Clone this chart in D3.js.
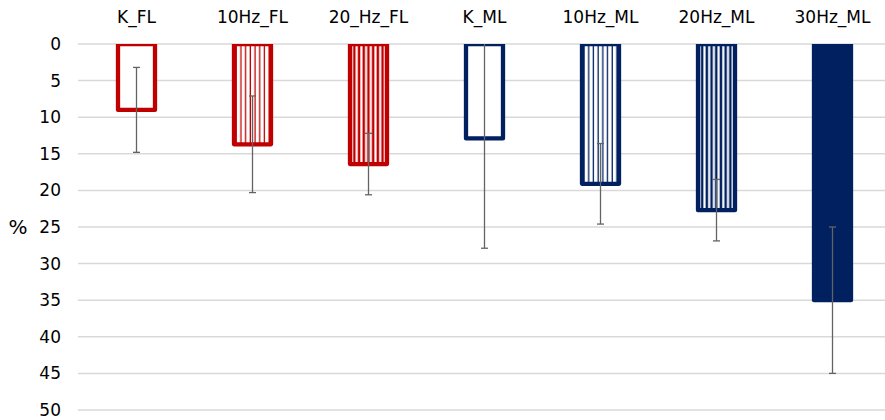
<!DOCTYPE html>
<html>
<head>
<meta charset="utf-8">
<script src="https://cdn.jsdelivr.net/npm/d3@7"></script>
<style>
  html, body { margin: 0; padding: 0; background: #fff; }
  svg { display: block; font-family: "DejaVu Sans", Verdana, sans-serif; }
</style>
</head>
<body>
<svg id="chart" width="885" height="420"></svg>
<script>
// Groups, mean values (%) and error half-widths
const categories = ["K_FL", "10Hz_FL", "20_Hz_FL", "K_ML", "10Hz_ML", "20Hz_ML", "30Hz_ML"];
const values = [9.0, 13.7, 16.4, 12.9, 19.1, 22.7, 35.0];
const errors = [5.8, 6.6, 4.2, 15.0, 5.5, 4.2, 10.0];
// fill style per bar: hollow, light stripes, dense stripes, solid
const fills = ["hollow", "light", "dense", "hollow", "light", "dense", "solid"];
const colors = ["#C00000", "#C00000", "#C00000", "#002060", "#002060", "#002060", "#002060"];
const yTicks = [0, 5, 10, 15, 20, 25, 30, 35, 40, 45, 50];

const svg = d3.select("#chart");
const W = 885, H = 420;

const y = d3.scaleLinear().domain([0, 50]).range([44, 410]);
const x = d3.scaleBand().domain(categories).range([78.5, 890.5]).paddingInner(0).paddingOuter(0);
const barW = 41;

const defs = svg.append("defs");
// vertical stripe patterns
function stripe(id, color, lineW) {
  const p = defs.append("pattern").attr("id", id)
    .attr("patternUnits", "userSpaceOnUse").attr("width", 4.7).attr("height", 10);
  p.append("rect").attr("width", 4.7).attr("height", 10).attr("fill", "#fff");
  p.append("rect").attr("x", 0.6).attr("width", lineW).attr("height", 10).attr("fill", color);
}
stripe("light-C00000", "#C00000", 1.3);
stripe("dense-C00000", "#C00000", 2.5);
stripe("light-002060", "#002060", 1.3);
stripe("dense-002060", "#002060", 2.5);

defs.append("clipPath").attr("id", "plotClip")
  .append("rect").attr("x", 0).attr("y", y(0)).attr("width", W).attr("height", H - y(0));

// grid lines
svg.append("g").selectAll("line").data(yTicks).join("line")
  .attr("x1", 78).attr("x2", W)
  .attr("y1", d => y(d)).attr("y2", d => y(d))
  .attr("stroke", "#d9d9d9").attr("stroke-width", 1.5);

// y axis labels
const yAxis = d3.axisLeft(y).tickValues(yTicks).tickSize(0).tickPadding(0);
const gy = svg.append("g").attr("transform", "translate(61,0)").call(yAxis);
gy.select(".domain").remove();
gy.selectAll("text").attr("font-size", 17).attr("fill", "#000")
  .attr("font-family", "DejaVu Sans, Verdana, sans-serif");

svg.append("text").attr("x", 18).attr("y", y(25)).attr("dy", "0.35em")
  .attr("text-anchor", "middle").attr("font-size", 20).attr("fill", "#000").text("%");

// category labels along the top
const xAxis = d3.axisTop(x).tickSize(0).tickPadding(0);
const gx = svg.append("g").attr("transform", "translate(0,23)").call(xAxis);
gx.select(".domain").remove();
gx.selectAll("text").attr("font-size", 17).attr("fill", "#000")
  .attr("font-family", "DejaVu Sans, Verdana, sans-serif").attr("dy", 0);

// bars hanging down from 0
const data = categories.map((c, i) => ({ c, v: values[i], e: errors[i], f: fills[i], col: colors[i] }));
const cx = d => x(d.c) + x.bandwidth() / 2;

svg.append("g").attr("clip-path", "url(#plotClip)")
  .selectAll("rect").data(data).join("rect")
  .attr("x", d => cx(d) - barW / 2 + 2)
  .attr("width", barW - 4)
  .attr("y", y(0))
  .attr("height", d => y(d.v) - y(0))
  .attr("fill", d => d.f === "hollow" ? "#fff" : d.f === "solid" ? d.col : `url(#${d.f}-${d.col.slice(1)})`)
  .attr("stroke", d => d.col)
  .attr("stroke-width", 4.3)
  .attr("stroke-linejoin", "round");

// error bars
const eg = svg.append("g").attr("stroke", "#636363").attr("stroke-width", 1.3);
data.forEach(d => {
  const lo = Math.max(0, d.v - d.e), hi = d.v + d.e;
  const xc = cx(d);
  eg.append("line").attr("x1", xc).attr("x2", xc).attr("y1", y(lo)).attr("y2", y(hi));
  if (d.v - d.e > 0) {
    eg.append("line").attr("x1", xc - 3.5).attr("x2", xc + 3.5).attr("y1", y(lo)).attr("y2", y(lo));
  }
  eg.append("line").attr("x1", xc - 3.5).attr("x2", xc + 3.5).attr("y1", y(hi)).attr("y2", y(hi));
});
</script>
</body>
</html>
